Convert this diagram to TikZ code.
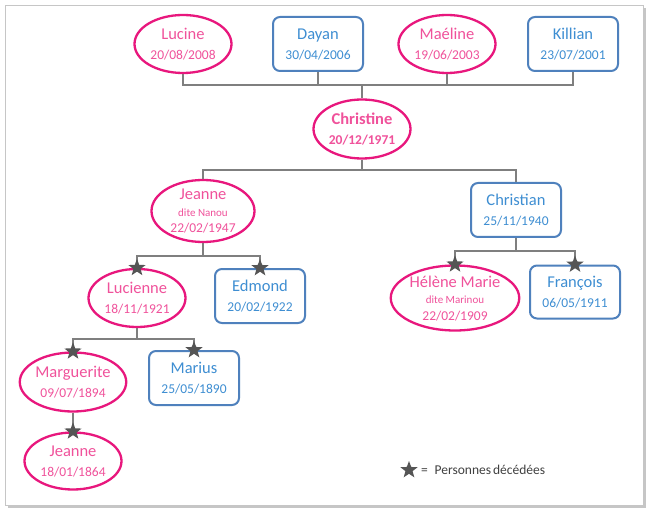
\documentclass[tikz,border=0pt]{standalone}
\usepackage{fontspec}
\setmainfont{Carlito}
\usetikzlibrary{shapes.geometric}
\definecolor{pinkline}{HTML}{E8177D}
\definecolor{pinktext}{HTML}{F0529B}
\definecolor{blueline}{HTML}{4F81BD}
\definecolor{bluetext}{HTML}{3E8ED2}
\definecolor{connc}{HTML}{7F7F7F}
\definecolor{starc}{HTML}{555555}
\definecolor{legc}{HTML}{404040}
\newcommand\NameF{\fontsize{16.5}{20}\selectfont}
\newcommand\DateF{\fontsize{13.5}{20}\selectfont}
\newcommand\SmallF{\fontsize{11}{16}\selectfont}
\tikzset{
  person/.style={inner sep=0pt, align=center, text depth=0pt, font=\fontsize{13.5}{20}\selectfont},
  threeline/.style={font=\fontsize{13.5}{16.5}\selectfont},
  girl/.style={person, ellipse, draw=pinkline, line width=2.3pt, fill=white, text=pinktext,
     minimum width=97pt, minimum height=58pt},
  boy/.style={person, rectangle, rounded corners=7pt, draw=blueline, line width=2pt, fill=white, text=bluetext,
     minimum width=90pt, minimum height=54pt},
  conn/.style={draw=connc, line width=1.3pt},
  dead/.style={star, star points=5, star point ratio=2.4, fill=starc, draw=none,
     minimum size=18pt, inner sep=0pt}
}
\begin{document}
\begin{tikzpicture}[x=1pt,y=-1pt]
\useasboundingbox (0,0) rectangle (648,513);
% frame with shadow
\fill[gray!45] (8,8) rectangle (646,508);
\fill[white, draw=gray!45, line width=0.8pt] (5,5) rectangle (643,505);

% generation: children
\node[girl] (lucine) at (183,44) {\NameF Lucine\\\DateF 20/08/2008};
\node[boy] (dayan) at (318,44) {\NameF Dayan\\\DateF 30/04/2006};
\node[girl] (maeline) at (447,44) {\NameF Maéline\\\DateF 19/06/2003};
\node[boy] (killian) at (573,44) {\NameF Killian\\\DateF 23/07/2001};

\node[girl, minimum width=97pt, minimum height=59pt] (christine) at (362,129)
  {\NameF\bfseries Christine\\\DateF\bfseries 20/12/1971};

\coordinate (bartop) at (362,85);
\draw[conn] (lucine.south) -- (lucine.south |- bartop) -- (killian.south |- bartop) -- (killian.south);
\draw[conn] (dayan.south) -- (dayan.south |- bartop);
\draw[conn] (maeline.south) -- (maeline.south |- bartop);
\draw[conn] (bartop) -- (christine.north);

% parents
\node[girl, threeline, minimum width=103pt, minimum height=62pt] (jeanne) at (203,211)
  {\NameF Jeanne\\\SmallF dite Nanou\\\DateF 22/02/1947};
\node[boy] (christian) at (516,210) {\NameF Christian\\\DateF 25/11/1940};
\coordinate (barmid) at (362,170);
\draw[conn] (christine.south) -- (barmid);
\draw[conn] (jeanne.north) -- (jeanne.north |- barmid) -- (christian.north |- barmid) -- (christian.north);

% grandparents (Jeanne side)
\node[girl] (lucienne) at (137,298) {\NameF Lucienne\\\DateF 18/11/1921};
\node[boy] (edmond) at (260,296) {\NameF Edmond\\\DateF 20/02/1922};
\coordinate (barj) at (203,256);
\draw[conn] (jeanne.south) -- (barj);
\draw[conn] (lucienne.north) -- (lucienne.north |- barj) -- (edmond.north |- barj) -- (edmond.north);

% grandparents (Christian side)
\node[girl, threeline, minimum width=103pt, minimum height=65pt] (helene) at (455,298)
  {\NameF Hélène Marie\\\SmallF dite Marinou\\\DateF 22/02/1909};
\node[boy, minimum height=53pt] (francois) at (575,292) {\NameF François\\\DateF 06/05/1911};
\coordinate (barc) at (516,251);
\draw[conn] (christian.south) -- (barc);
\draw[conn] (helene.north) -- (helene.north |- barc) -- (francois.north |- barc) -- (francois.north);

% great-grandparents
\node[girl, minimum height=59pt] (marguerite) at (73,382) {\NameF Marguerite\\\DateF 09/07/1894};
\node[boy] (marius) at (194,378) {\NameF Marius\\\DateF 25/05/1890};
\coordinate (barl) at (137,339);
\draw[conn] (lucienne.south) -- (barl);
\draw[conn] (marguerite.north) -- (marguerite.north |- barl) -- (marius.north |- barl) -- (marius.north);

\node[girl, minimum height=57pt] (jeanne2) at (73,461) {\NameF Jeanne\\\DateF 18/01/1864};
\draw[conn] (marguerite.south) -- (jeanne2.north);

% stars
\node[dead] (s1) at (lucienne.north) {};
\node[dead] (s2) at (edmond.north) {};
\node[dead] (s3) at (helene.north) {};
\node[dead] (s4) at (francois.north) {};
\node[dead] (s5) at (marguerite.north) {};
\node[dead] (s6) at (marius.north) {};
\node[dead] (s7) at (jeanne2.north) {};

% legend
\node[dead] (lstar) at (409,470) {};
\node[anchor=west, text=legc, inner sep=0pt] (ltext) at (421,470)
  {\fontsize{13.5}{15}\selectfont =\enspace Personnes\kern2pt décédées};
\end{tikzpicture}
\end{document}
